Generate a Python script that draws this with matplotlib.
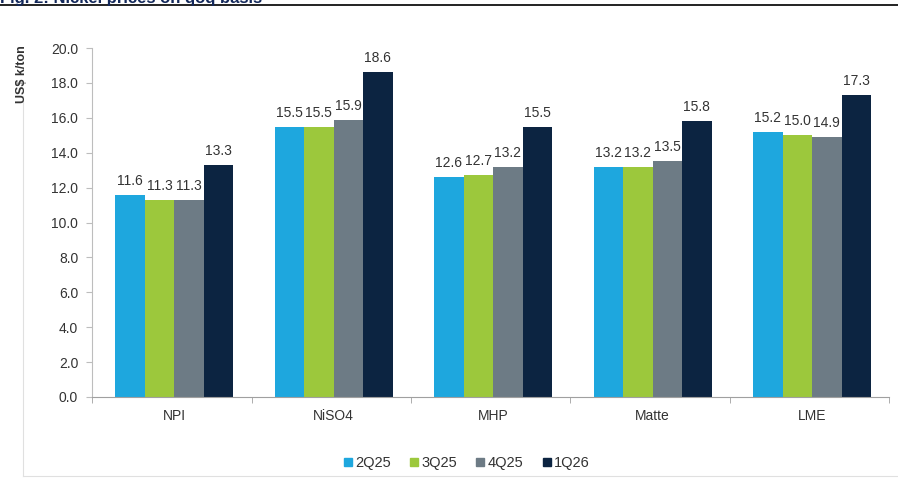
"""
nickel prices on a qoq basis, grouped bars
"""
import numpy as np
import matplotlib.pyplot as plt
from matplotlib.lines import Line2D

plt.rcParams['font.family'] = ['Liberation Sans', 'DejaVu Sans']

categories = ["NPI", "NiSO4", "MHP", "Matte", "LME"]
quarters = ["2Q25", "3Q25", "4Q25", "1Q26"]
q2_25 = [11.6, 15.5, 12.6, 13.2, 15.2]
q3_25 = [11.3, 15.5, 12.7, 13.2, 15.0]
q4_25 = [11.3, 15.9, 13.2, 13.5, 14.9]
q1_26 = [13.3, 18.6, 15.5, 15.8, 17.3]
colors = ["#1ea7de", "#9cc83c", "#6d7b85", "#0c2441"]

series = [q2_25, q3_25, q4_25, q1_26]

fig = plt.figure(figsize=(8.98, 4.78), dpi=100)
ax = fig.add_axes([0.1025, 0.1695, 0.888, 0.730])

x = np.arange(len(categories))
w = 0.185
for i, vals in enumerate(series):
    pos = x + (i - 1.5)*w + 0.015
    bars = ax.bar(pos, vals, w, color=colors[i], label=quarters[i])
    for b, v in zip(bars, vals):
        ax.text(b.get_x() + b.get_width()/2, v + 0.4, "%.1f" % v,
                ha='center', va='bottom', fontsize=10, color='#333333')

ax.set_xlim(-0.5, len(categories) - 0.5)
ax.set_ylim(0, 20)
ax.set_yticks(np.arange(0, 20.1, 2))
ax.set_yticklabels(["%.1f" % t for t in np.arange(0, 20.1, 2)])
ax.set_xticks(x + 0.015)
ax.set_xticklabels(categories)
ax.set_xticks(np.arange(-0.5, len(categories)), minor=True)

for s in ["top", "right"]:
    ax.spines[s].set_visible(False)
ax.spines["left"].set_color("#bdbdbd")
ax.spines["bottom"].set_color("#a0a0a0")
ax.tick_params(axis='y', which='major', length=4, color='#bdbdbd',
               labelsize=10, labelcolor='#333333', pad=6)
ax.tick_params(axis='x', which='major', length=0, labelsize=10,
               labelcolor='#333333', pad=9)
ax.tick_params(axis='x', which='minor', length=4, color='#a0a0a0')

fig.text(0.024, 0.845, "US$ k/ton", rotation=90, fontsize=9,
         fontweight='bold', color='#333333', ha='center', va='center')

handles = [Line2D([], [], marker='s', ls='', color=c, markersize=6) for c in colors]
fig.legend(handles, quarters, loc='center', bbox_to_anchor=(0.517, 0.031),
           ncol=4, frameon=False, fontsize=10.5, handletextpad=-0.1,
           columnspacing=1.0, labelcolor='#333333', handlelength=1.2)

# title cut at the top and frame lines
fig.text(0.0, 0.993, "Fig. 2: Nickel prices on qoq basis", fontsize=12,
         fontweight='bold', color='#13285a', ha='left', va='baseline')
fig.add_artist(Line2D([0, 1], [0.989, 0.989], color='#111111', lw=1.3))
fig.add_artist(Line2D([0.0256, 0.0256], [0.005, 0.80], color='#e0e0e0', lw=0.8))
fig.add_artist(Line2D([0.0256, 1], [0.005, 0.005], color='#e0e0e0', lw=0.8))

fig.savefig("out.png", dpi=100)
